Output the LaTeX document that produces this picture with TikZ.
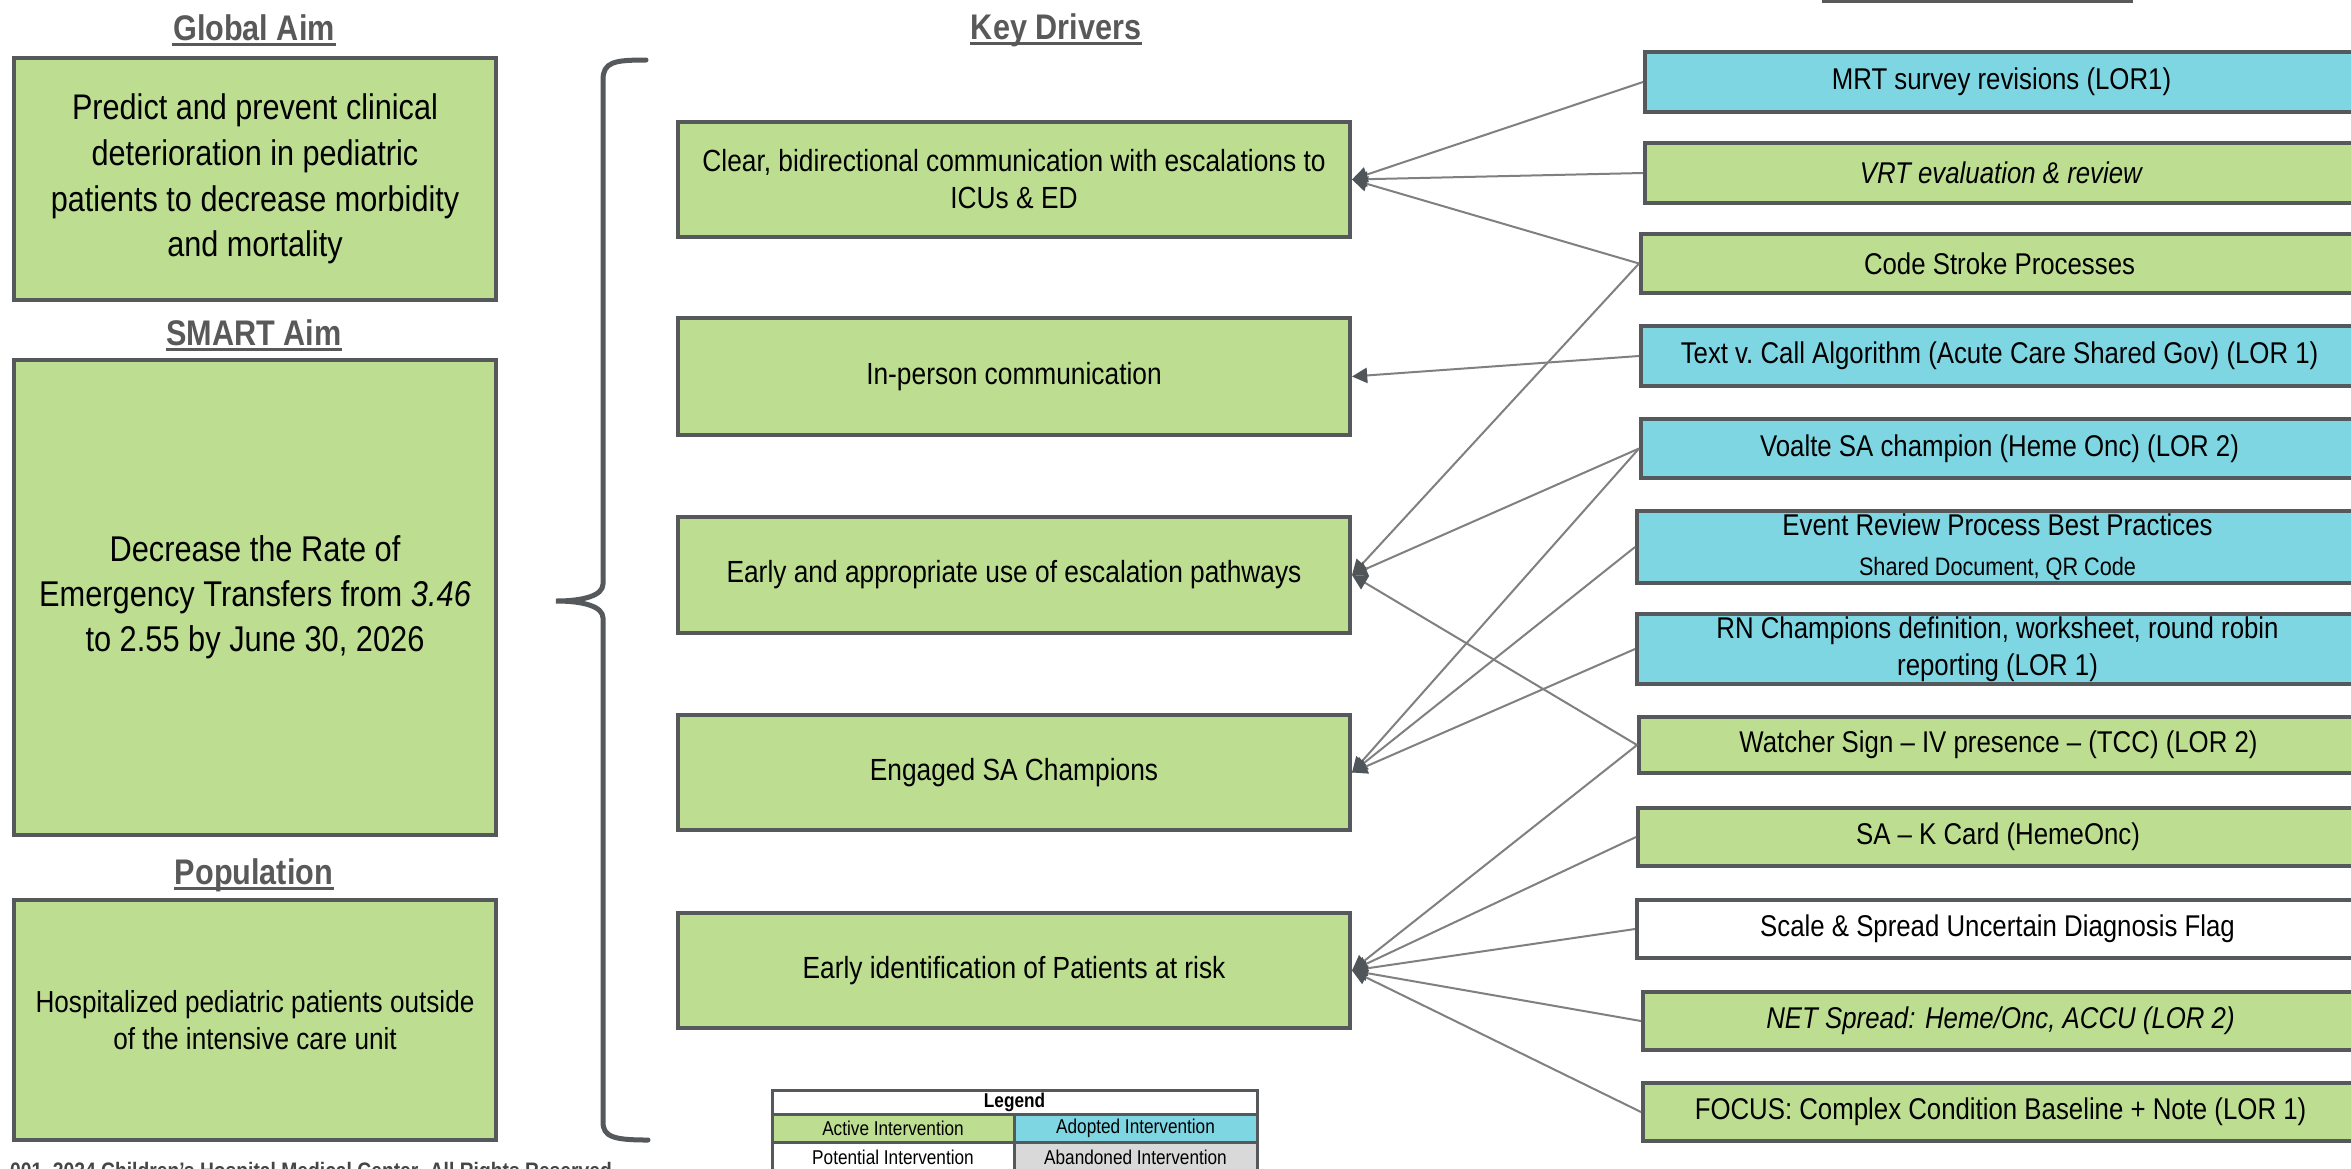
\documentclass[tikz,border=0pt]{standalone}
\usepackage{fontspec}
\setmainfont{Liberation Sans}[FakeStretch=0.86]
\usetikzlibrary{arrows.meta}
\definecolor{boxgreen}{RGB}{189,222,144}
\definecolor{boxblue}{RGB}{127,214,227}
\definecolor{boxgray}{RGB}{217,217,217}
\definecolor{bordergray}{RGB}{85,89,92}
\definecolor{conngray}{RGB}{128,128,128}
\definecolor{tipgray}{RGB}{80,85,90}
\definecolor{headgray}{RGB}{89,89,89}
\definecolor{copygray}{RGB}{70,70,70}
\tikzset{
  rect/.style n args={4}{at={({(#1+#3)/2},{(#2+#4)/2})}, minimum width={(#3-#1)*0.25pt}, minimum height={(#4-#2)*0.25pt}},
  box/.style={draw=bordergray, line width=1pt, inner sep=0pt, align=center, text=black},
  greenbox/.style={box, fill=boxgreen},
  bluebox/.style={box, fill=boxblue},
  whitebox/.style={box, fill=white},
  aimfont/.style={font=\fontsize{8.9}{11.4}\selectfont},
  popfont/.style={font=\fontsize{7.6}{9.25}\selectfont},
  kdfont/.style={font=\fontsize{7.65}{9.25}\selectfont},
  ivfont/.style={font=\fontsize{7.5}{9.25}\selectfont},
  legbox/.style={draw=bordergray, line width=0.75pt, inner sep=0pt, align=center, text=black, font=\fontsize{5}{6}\selectfont},
  heading/.style={font=\bfseries\fontsize{8.9}{10}\selectfont, text=headgray, anchor=base, inner sep=0pt},
  uline/.style={draw=headgray, line width=0.6pt},
  conn/.style={draw=conngray, line width=0.5pt, -{Triangle[length=3.8pt,width=3.8pt,color=tipgray]}},
  bracestyle/.style={draw=bordergray, line width=1.25pt, line cap=round}
}
\begin{document}
\begin{tikzpicture}[x=0.25pt,y=-0.25pt]
\useasboundingbox (0,0) rectangle (2351,1168);
\fill[white] (0,0) rectangle (2351,1168);
\clip (0,0) rectangle (2351,1168);

% headings
\node[heading] (hglobal) at (254,40) {Global Aim};
\node[heading] (hsmart) at (254,345) {SMART Aim};
\node[heading] (hpop) at (254,884) {Population};
\node[heading] (hkd) at (1056,39) {Key Drivers};
\foreach \h in {hglobal,hsmart,hpop,hkd}{
  \draw[uline] ([yshift=-1.1pt]\h.base west) -- ([yshift=-1.1pt]\h.base east);
}
\coordinate (ivl) at (1822,1.5);
\coordinate (ivr) at (2133,1.5);
\draw[uline] (ivl) -- (ivr);

% left column
\node[greenbox, aimfont, rect={14}{58}{496}{300}] (global) {Predict and prevent clinical\\deterioration in pediatric\\patients to decrease morbidity\\and mortality};
\node[greenbox, font=\fontsize{8.95}{11.25}\selectfont, rect={14}{360}{496}{835}] (smart) {Decrease the Rate of\\Emergency Transfers from \textit{3.46}\\to 2.55 by June 30, 2026};
\node[greenbox, popfont, rect={14}{900}{496}{1140}] (pop) {Hospitalized pediatric patients outside\\of the intensive care unit};

% brace
\draw[bracestyle] (646,60) .. controls (614,60) and (603,62) .. (603,80)
  -- (603,584) .. controls (603,596) and (582,601) .. (556,601)
  .. controls (582,601) and (603,606) .. (603,618)
  -- (603,1122) .. controls (603,1137) and (614,1140) .. (648,1140);

% key drivers
\node[greenbox, kdfont, rect={678}{122}{1350}{237}] (kd1) {Clear, bidirectional communication with escalations to\\ICUs \& ED};
\node[greenbox, kdfont, rect={678}{318}{1350}{435}] (kd2) {In-person communication};
\node[greenbox, kdfont, rect={678}{517}{1350}{633}] (kd3) {Early and appropriate use of escalation pathways};
\node[greenbox, kdfont, rect={678}{715}{1350}{830}] (kd4) {Engaged SA Champions};
\node[greenbox, kdfont, rect={678}{913}{1350}{1028}] (kd5) {Early identification of Patients at risk};

% interventions
\node[bluebox, ivfont, rect={1645}{52}{2358}{112}] (iv1) {MRT survey revisions (LOR1)};
\node[greenbox, ivfont, rect={1645}{143}{2358}{203}] (iv2) {\textit{VRT evaluation \& review}};
\node[greenbox, ivfont, rect={1641}{234}{2358}{293}] (iv3) {Code Stroke Processes};
\node[bluebox, ivfont, rect={1641}{326}{2358}{386}] (iv4) {Text v.\ Call Algorithm (Acute Care Shared Gov) (LOR 1)};
\node[bluebox, ivfont, rect={1641}{419}{2358}{478}] (iv5) {Voalte SA champion (Heme Onc) (LOR 2)};
\node[bluebox, ivfont, rect={1637}{511}{2358}{583}] (iv6) {Event Review Process Best Practices\\[0.6pt]{\fontsize{6.3}{7}\selectfont Shared Document, QR Code}};
\node[bluebox, ivfont, rect={1637}{614}{2358}{684}] (iv7) {RN Champions definition, worksheet, round robin\\reporting (LOR 1)};
\node[greenbox, ivfont, rect={1639}{717}{2358}{773}] (iv8) {Watcher Sign – IV presence – (TCC) (LOR 2)};
\node[greenbox, ivfont, rect={1638}{808}{2358}{866}] (iv9) {SA – K Card (HemeOnc)};
\node[whitebox, ivfont, rect={1637}{900}{2358}{958}] (iv10) {Scale \& Spread Uncertain Diagnosis Flag};
\node[greenbox, ivfont, rect={1643}{992}{2358}{1050}] (iv11) {\textit{NET Spread: Heme/Onc, ACCU (LOR 2)}};
\node[greenbox, ivfont, rect={1643}{1083}{2358}{1141}] (iv12) {FOCUS: Complex Condition Baseline + Note (LOR 1)};

% connectors
\draw[conn] (iv1.west) -- (kd1.east);
\draw[conn] (iv2.west) -- (kd1.east);
\draw[conn] (iv3.west) -- (kd1.east);
\draw[conn] (iv3.west) -- (kd3.east);
\draw[conn] (iv4.west) -- (kd2.east);
\draw[conn] (iv5.west) -- (kd3.east);
\draw[conn] (iv5.west) -- (kd4.east);
\draw[conn] (iv6.west) -- (kd4.east);
\draw[conn] (iv7.west) -- (kd4.east);
\draw[conn] (iv8.west) -- (kd3.east);
\draw[conn] (iv8.west) -- (kd5.east);
\draw[conn] (iv9.west) -- (kd5.east);
\draw[conn] (iv10.west) -- (kd5.east);
\draw[conn] (iv11.west) -- (kd5.east);
\draw[conn] (iv12.west) -- (kd5.east);

% legend
\node[legbox, fill=white, font=\bfseries\fontsize{5}{6}\selectfont, rect={772}{1090}{1257}{1114}] (legt) {Legend};
\node[legbox, fill=boxgreen, rect={772}{1114}{1014}{1142}] (lega) {Active Intervention};
\node[legbox, fill=boxblue, rect={1014}{1114}{1257}{1142}] (legb) {Adopted Intervention};
\node[legbox, fill=white, rect={772}{1142}{1014}{1172}] (legc) {Potential Intervention};
\node[legbox, fill=boxgray, rect={1014}{1142}{1257}{1172}] (legd) {Abandoned Intervention};

% copyright
\node[anchor=base east, inner sep=0pt, text=copygray, font=\bfseries\fontsize{5.6}{6}\selectfont] (copy) at (618,1178) {001, 2024 Children's Hospital Medical Center. All Rights Reserved.};
\end{tikzpicture}
\end{document}
